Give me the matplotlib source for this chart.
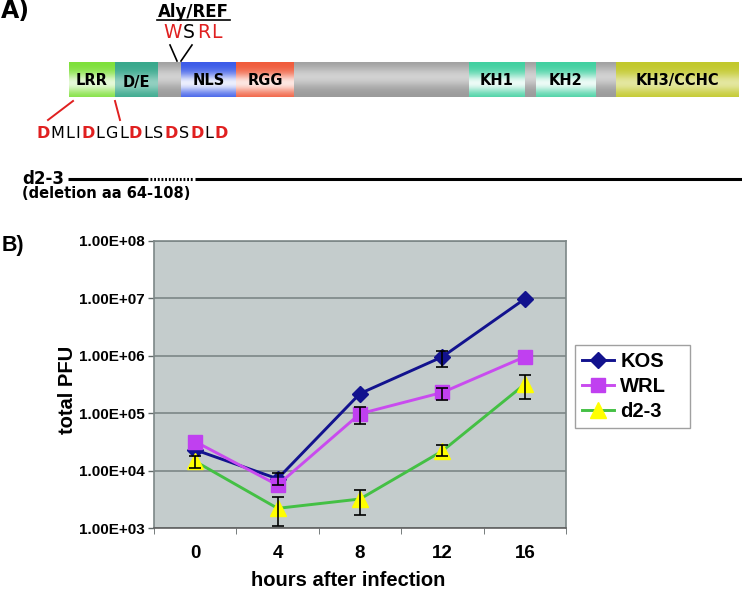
import matplotlib
matplotlib.use('Agg')
import matplotlib.pyplot as plt
import matplotlib.colors as mcolors
import numpy as np
from matplotlib.ticker import FixedLocator, FuncFormatter, NullFormatter

plt.rcParams['font.family'] = ['Liberation Sans', 'DejaVu Sans']

# ---- panel B data ----
hours = np.array([0, 4, 8, 12, 16])
kos = np.array([2.3e4, 7.2e3, 2.2e5, 9.6e5, 9.8e6])
kos_lo = np.array([0, 1.5e3, 0, 3.3e5, 0])
kos_hi = np.array([0, 2.0e3, 0, 2.4e5, 0])
wrl = np.array([3.2e4, 5.6e3, 9.8e4, 2.3e5, 9.6e5])
wrl_lo = np.array([0, 0, 3.2e4, 6.0e4, 0])
wrl_hi = np.array([0, 0, 2.8e4, 5.0e4, 0])
d23 = np.array([1.45e4, 2.2e3, 3.2e3, 2.2e4, 3.2e5])
d23_lo = np.array([3.3e3, 1.1e3, 1.5e3, 4.0e3, 1.4e5])
d23_hi = np.array([3.5e3, 1.2e3, 1.4e3, 6.0e3, 1.4e5])
yticks = [1e3, 1e4, 1e5, 1e6, 1e7, 1e8]

# ---- panel A (domain map) ----
dom_names = ['LRR', 'D/E', 'NLS', 'RGG', 'KH1', 'KH2', 'KH3/CCHC']
dom_colors = ['#7ee03a', '#38a88c', '#3a5ae8', '#f05a3a', '#40d0a0', '#40d0a0', '#c2c82a']
dom_span = [(69, 115), (115, 158), (181, 236), (236, 294), (469, 525), (536, 596), (616, 739)]
motif = 'WSRL'
motif_red = [True, False, True, True]
seq = 'DMLIDLGLDLSDSDLD'

fig = plt.figure(figsize=(7.42, 5.89), dpi=100)
ax0 = fig.add_axes([0, 0, 1, 1])
ax0.axis('off')


def grad(color, strength=0.85, peak=0.6, width=0.28, n=60):
    rgb = np.array(mcolors.to_rgb(color))
    t = np.linspace(0, 1, n)
    w = strength * np.exp(-((t - peak) / width) ** 2)
    arr = rgb[None, :] * (1 - w[:, None]) + w[:, None]
    return arr[:, None, :]


bar_top, bar_bot = 62, 97
ax0.imshow(grad('#9a9a9a', 0.55, 0.42, 0.3), extent=(69, 739, bar_bot, bar_top),
           aspect='auto', interpolation='bilinear', zorder=1)
strengths = [0.8, 0.45, 0.9, 0.85, 0.9, 0.9, 0.55]
for name, col, (x0, x1), s in zip(dom_names, dom_colors, dom_span, strengths):
    ax0.imshow(grad(col, s), extent=(x0, x1, bar_bot, bar_top),
               aspect='auto', interpolation='bilinear', zorder=2)
    yy = 82 if name == 'D/E' else 80.5
    ax0.text((x0 + x1) / 2, yy, name, ha='center', va='center', fontsize=10.5,
             fontweight='bold', family='DejaVu Sans', zorder=3)

ax0.text(1, 11, 'A)', fontsize=17, fontweight='bold', family='DejaVu Sans', va='center')
ax0.text(193, 12, 'Aly/REF', fontsize=12, fontweight='bold', family='DejaVu Sans',
         ha='center', va='center')
ax0.plot([157, 230], [20, 20], color='black', lw=1.2)
ax0.plot([170, 177], [45, 61], color='black', lw=1.2)
ax0.plot([192, 181], [45, 61], color='black', lw=1.2)
ax0.plot([73, 48], [101, 120], color='#e02020', lw=1.4)
ax0.plot([115, 120], [101, 120], color='#e02020', lw=1.4)

renderer = fig.canvas.get_renderer()


def spaced(chars, x0, x1, y, size):
    texts = []
    for ch, col, wt in chars:
        texts.append(ax0.text(0, y, ch, color=col, fontweight=wt, fontsize=size,
                              family='DejaVu Sans', va='center', ha='left'))
    ws = [t.get_window_extent(renderer).width for t in texts]
    gap = (x1 - x0 - sum(ws)) / (len(ws) - 1)
    x = x0
    for t, w in zip(texts, ws):
        t.set_x(x)
        x += w + gap


spaced([(c, '#e02020' if r else 'black', 'normal') for c, r in zip(motif, motif_red)],
       163, 222, 32, 13.5)
spaced([(c, '#e02020', 'bold') if c == 'D' else (c, 'black', 'normal') for c in seq],
       36, 228, 133, 11.5)

ax0.text(22, 179, 'd2-3', fontsize=12, fontweight='bold', family='DejaVu Sans', va='center')
ax0.plot([68, 148], [179, 179], color='black', lw=2.2, solid_capstyle='butt')
ax0.plot([150, 194], [179, 179], color='black', lw=2.2, ls=(0, (0.6, 0.6)))
ax0.plot([195, 742], [179, 179], color='black', lw=2.2, solid_capstyle='butt')
ax0.text(22, 194, '(deletion aa 64-108)', fontsize=10.5, fontweight='bold',
         family='DejaVu Sans', va='center')
ax0.text(2, 245, 'B)', fontsize=15.5, fontweight='bold', va='center')

ax0.set_xlim(0, 742)
ax0.set_ylim(589, 0)

# ---- panel B chart ----
ax = fig.add_axes([154 / 742, 61 / 589, 412 / 742, 287 / 589])
ax.set_facecolor('#c4cccc')
ax.set_yscale('log')
ax.set_ylim(1e3, 1e8)
ax.set_xlim(-2, 18)

ax.plot(hours, kos, color='#12128e', lw=2.1, marker='D', ms=8,
        mfc='#12128e', mec='#12128e', label='KOS', zorder=3)
ax.plot(hours, wrl, color='#c94bef', lw=2.1, marker='s', ms=10,
        mfc='#c040f0', mec='#c040f0', label='WRL', zorder=3)
ax.plot(hours, d23, color='#44c044', lw=2.1, marker='^', ms=12,
        mfc='#ffff00', mec='#ffff00', label='d2-3', zorder=3)

for vals, lo, hi in [(kos, kos_lo, kos_hi), (wrl, wrl_lo, wrl_hi), (d23, d23_lo, d23_hi)]:
    idx = (lo > 0) | (hi > 0)
    ax.errorbar(hours[idx], vals[idx], yerr=[lo[idx], hi[idx]], fmt='none',
                ecolor='black', elinewidth=1.2, capsize=4, capthick=1.2, zorder=4)

ax.yaxis.set_major_locator(FixedLocator(yticks))
ax.yaxis.set_minor_formatter(NullFormatter())
ax.yaxis.set_minor_locator(FixedLocator([]))
ax.yaxis.set_major_formatter(FuncFormatter(lambda v, p: '{:.2E}'.format(v)))
ax.grid(axis='y', color='#7d8787', lw=1.2)
ax.set_axisbelow(True)
ax.set_xticks(hours)
ax.set_xticks(np.arange(-2, 19, 4), minor=True)
ax.tick_params(axis='y', labelsize=11, length=4, width=1, color='#606868', pad=3)
ax.tick_params(axis='x', which='major', labelsize=13.5, length=0, pad=12)
ax.tick_params(axis='x', which='minor', length=4, color='#606868')
for lab in ax.get_xticklabels() + ax.get_yticklabels():
    lab.set_fontweight('bold')

for side in ['left', 'top', 'right']:
    ax.spines[side].set_color('#7d8787')
    ax.spines[side].set_linewidth(1.2)
ax.spines['bottom'].set_color('#606060')
ax.spines['bottom'].set_linewidth(1.2)

ax.set_xlabel('hours after infection', fontsize=14.5, fontweight='bold')
ax.xaxis.set_label_coords((348 - 154) / 412, -(580 - 528) / 287)
ax.set_ylabel('total PFU', fontsize=14.5, fontweight='bold')
ax.yaxis.set_label_coords(-(154 - 68) / 412, (528 - 390) / 287)
ax.xaxis.label.set_va('center')
ax.yaxis.label.set_va('center')

leg = ax.legend(loc='upper left',
                bbox_to_anchor=(575 / 742, 1 - 423 / 589, 115 / 742, 78 / 589),
                bbox_transform=fig.transFigure, mode='expand', fancybox=False,
                framealpha=1, edgecolor='#a0a0a0', handlelength=1.6,
                handletextpad=0.3, labelspacing=0.3, borderpad=0.35,
                borderaxespad=0, prop={'weight': 'bold', 'size': 14.5})
leg.get_frame().set_linewidth(1)

fig.savefig('out.png', dpi=100)
